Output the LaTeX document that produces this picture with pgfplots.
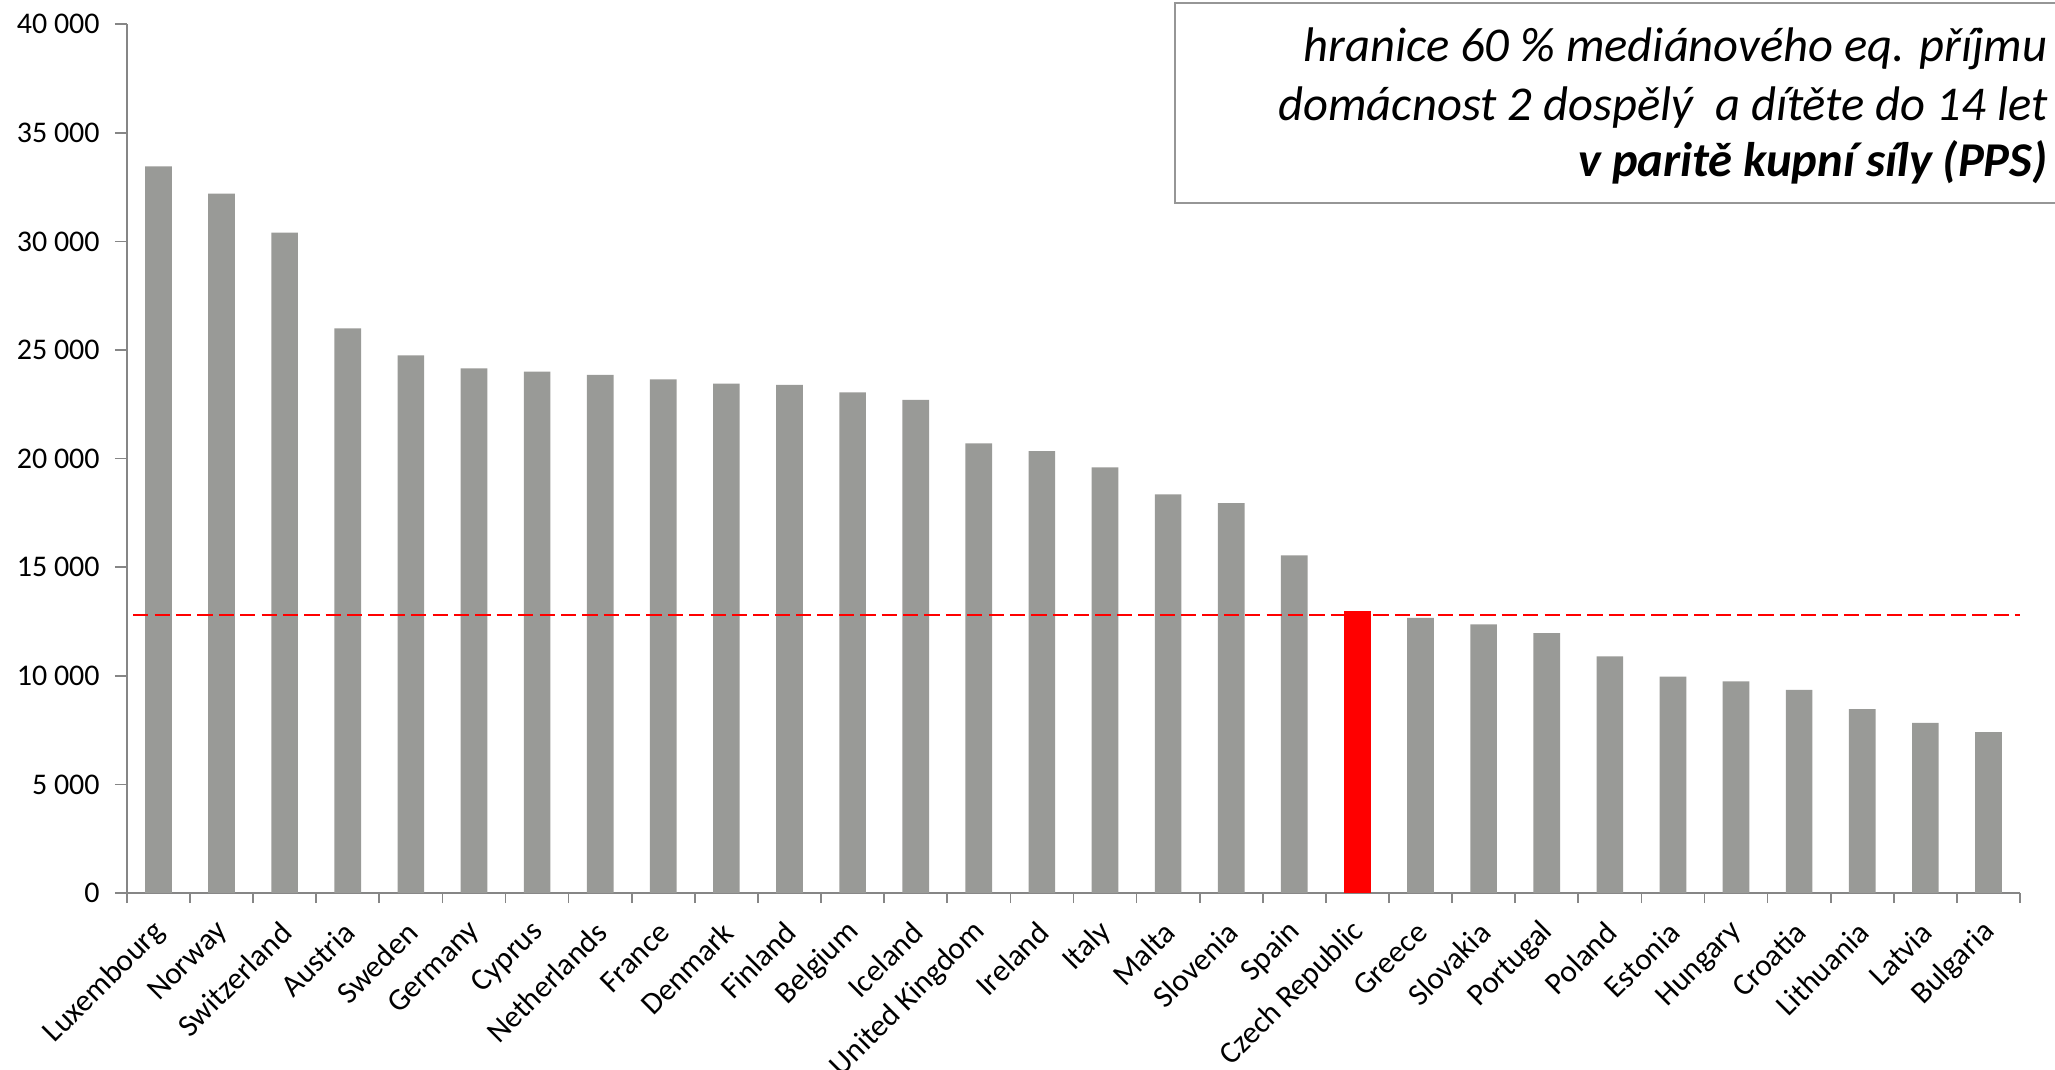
\documentclass[border=0pt]{standalone}
\usepackage{pgfplots}
\pgfplotsset{compat=1.18}
\usepackage{fontspec}
\setmainfont{Carlito}
\definecolor{bargray}{RGB}{153,154,151}
\definecolor{axgray}{RGB}{134,134,134}
\definecolor{boxgray}{RGB}{150,150,150}
\begin{document}
\begin{tikzpicture}
\useasboundingbox (0,0) rectangle (740pt,385pt);
\begin{axis}[
  at={(45.7pt,63.4pt)}, anchor=south west,
  scale only axis, width=681.7pt, height=312.9pt,
  xmin=-0.5, xmax=29.5, ymin=0, ymax=40000,
  axis x line*=bottom, axis y line*=left,
  axis line style={draw=axgray, line width=0.6pt, -},
  ytick={0,5000,...,40000},
  xtick={0,...,29},
  xticklabels={Luxembourg,Norway,Switzerland,Austria,Sweden,Germany,Cyprus,Netherlands,France,Denmark,Finland,Belgium,Iceland,United Kingdom,Ireland,Italy,Malta,Slovenia,Spain,Czech Republic,Greece,Slovakia,Portugal,Poland,Estonia,Hungary,Croatia,Lithuania,Latvia,Bulgaria},
  minor xtick={-0.5,0.5,...,29.5},
  major x tick style={draw=none},
  minor x tick style={draw=axgray, line width=0.6pt},
  y tick style={draw=axgray, line width=0.6pt},
  tick align=outside,
  major tick length=4.3pt, minor tick length=3.6pt,
  x tick label style={xshift=3pt, yshift=-5.6pt, rotate=45, anchor=east, font=\fontsize{11.2}{13}\selectfont},
  y tick label style={font=\fontsize{10.8}{13}\selectfont, xshift=-2pt},
  /pgf/number format/assume math mode=true,
  /pgf/number format/1000 sep={\ },
  scaled y ticks=false,
  clip=false,
]
\addplot[ybar, bar width=9.6pt, bar shift=0pt, fill=bargray, draw=none] coordinates {
(0,33450) (1,32200) (2,30400) (3,26000) (4,24750) (5,24150) (6,24000) (7,23850)
(8,23650) (9,23450) (10,23400) (11,23050) (12,22700) (13,20700) (14,20350)
(15,19600) (16,18350) (17,17950) (18,15550) (20,12670) (21,12370)
(22,11970) (23,10900) (24,9970) (25,9740) (26,9360) (27,8470) (28,7840) (29,7410)};
\addplot[ybar, bar width=9.6pt, bar shift=0pt, fill=red, draw=none] coordinates {(19,13000)};
\addplot[red, line width=0.8pt, dash pattern=on 5.5pt off 2.2pt] coordinates {(-0.4,12800) (29.5,12800)};
\end{axis}
\draw[boxgray, line width=0.8pt] (423pt,311.9pt) rectangle (770pt,383.9pt);
\node[anchor=base east, inner sep=0pt, font=\fontsize{17.5}{21}\selectfont\itshape] at (737.5pt,362.8pt) {hranice 60 \% mediánového eq. příjmu};
\node[anchor=base east, inner sep=0pt, font=\fontsize{17.5}{21}\selectfont\itshape] at (737.5pt,341.6pt) {domácnost 2 dospělý\ \ a dítěte do 14 let};
\node[anchor=base east, inner sep=0pt, font=\fontsize{17.5}{21}\selectfont\bfseries\itshape] at (737.5pt,321.3pt) {v paritě kupní síly (PPS)};
\end{tikzpicture}
\end{document}
